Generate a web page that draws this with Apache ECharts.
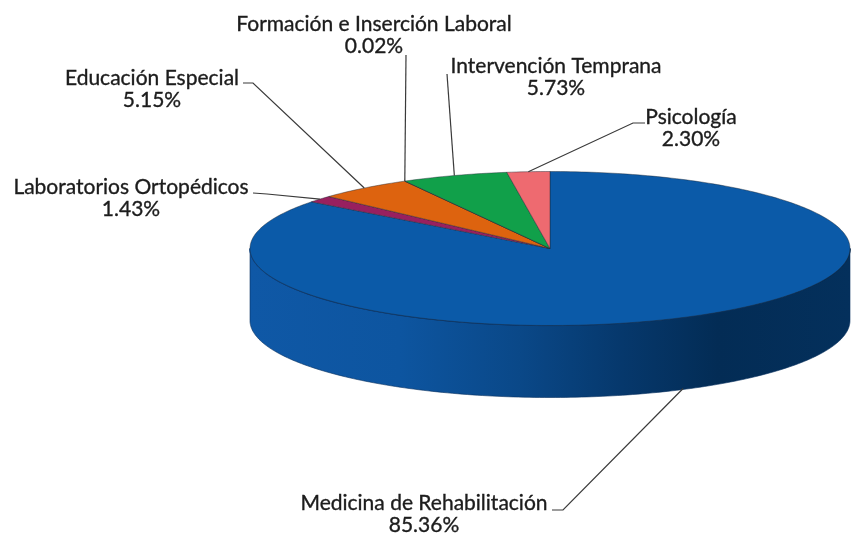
<!DOCTYPE html>
<html>
<head>
<meta charset="utf-8">
<style>html,body{margin:0;padding:0;background:#fff}#chart{width:866px;height:534px}</style>
<script src="https://cdn.jsdelivr.net/npm/echarts@6/dist/echarts.min.js"></script>
</head>
<body>
<div id="chart"></div>
<script>
// Data, clockwise from 12 o'clock
const categories = ['Medicina de Rehabilitación','Laboratorios Ortopédicos','Educación Especial','Formación e Inserción Laboral','Intervención Temprana','Psicología'];
const shares = [85.36, 1.43, 5.15, 0.02, 5.73, 2.30];

// Styles and layout
const sliceColors = ['#0b5aa8','#98205f','#dd630f','#7a5a20','#11a04a','#ee6a70'];
const cx = 550, cy = 248.5, rx = 300, ry = 77, depth = 72;
const labelCenters = [[424,514],[131,198],[152,89],[374,35],[556,77],[691,128]];
const leaderStarts = [[552,510],[253,193],[243,83],[406,55],[447,74],[645,123]];
const leaderKnees  = [[563,510],[267,194],[253,83],null,null,[633,123]];
const fontFamily = 'Lato, "Open Sans", sans-serif';

const total = shares.reduce((a, b) => a + b, 0);
const toAngle = s => s / total * 360;
function pt(deg, dy) {
  const r = deg * Math.PI / 180;
  return [cx + rx * Math.sin(r), cy - ry * Math.cos(r) + (dy || 0)];
}
function arc(a0, a1, dy) {
  const pts = [], n = Math.max(1, Math.ceil((a1 - a0) / 1));
  for (let i = 0; i <= n; i++) pts.push(pt(a0 + (a1 - a0) * i / n, dy));
  return pts;
}
function sliceRange(i) {
  let s = 0;
  for (let k = 0; k < i; k++) s += shares[k];
  return [toAngle(s), toAngle(s + shares[i])];
}
const wallFill = new echarts.graphic.LinearGradient(0, 0, 1, 0, [
  {offset: 0, color: '#0f58a6'},
  {offset: 0.25, color: '#0d55a0'},
  {offset: 0.45, color: '#0a4888'},
  {offset: 0.62, color: '#06386c'},
  {offset: 0.78, color: '#032c55'},
  {offset: 1, color: '#04305c'}
]);
const edgeStroke = new echarts.graphic.LinearGradient(0, 0, 1, 0, [
  {offset: 0, color: '#0b4c96'},
  {offset: 0.1, color: '#0a3f80'},
  {offset: 0.5, color: '#083a74'},
  {offset: 1, color: '#032a52'}
]);

function renderWall(params, api) {
  const i = params.dataIndex;
  const [a0, a1] = sliceRange(i);
  const lo = Math.max(a0, 90), hi = Math.min(a1, 270);
  if (hi <= lo) return {type: 'group', children: []};
  const top = arc(lo, hi, 0), bottom = arc(lo, hi, depth).reverse();
  return {type: 'group', children: [
    {type: 'polygon', shape: {points: top.concat(bottom)},
     style: {fill: wallFill, stroke: '#062f5e', lineWidth: 0.6}},
    {type: 'polyline', shape: {points: top},
     style: {fill: 'none', stroke: edgeStroke, lineWidth: 1.4}}
  ]};
}
function renderTop(params, api) {
  const i = params.dataIndex;
  const [a0, a1] = sliceRange(i);
  const poly = [[cx, cy]].concat(arc(a0, a1, 0));
  const mid = (a0 + a1) / 2;
  const onWall = mid > 90 && mid < 270;
  const anchor = pt(mid, onWall ? depth - 1 : 0);
  const leader = [leaderStarts[i]];
  if (leaderKnees[i]) leader.push(leaderKnees[i]);
  leader.push(anchor);
  return {type: 'group', children: [
    {type: 'polygon', shape: {points: poly},
     style: {fill: sliceColors[i], stroke: 'rgba(30,40,50,0.55)', lineWidth: 0.8}, z2: 1},
    {type: 'polyline', shape: {points: leader},
     style: {fill: 'none', stroke: '#3a3a3a', lineWidth: 1.2}, z2: 2},
    {type: 'text', x: labelCenters[i][0], y: labelCenters[i][1], z2: 3,
     style: {text: categories[i] + '\n' + api.value(0).toFixed(2) + '%',
             textAlign: 'center', textVerticalAlign: 'middle',
             fontFamily: fontFamily, fontSize: 21, lineHeight: 22, fill: '#1c1c1c',
             stroke: '#1c1c1c', lineWidth: 0.35}}
  ]};
}
const seriesData = shares.map((v, i) => ({name: categories[i], value: [v]}));
const chart = echarts.init(document.getElementById('chart'), null, {renderer: 'canvas'});
chart.setOption({
  animation: false,
  backgroundColor: '#ffffff',
  series: [
    {type: 'custom', coordinateSystem: 'none', renderItem: renderWall, data: seriesData, z: 1, silent: true},
    {type: 'custom', coordinateSystem: 'none', renderItem: renderTop, data: seriesData, z: 2, silent: true}
  ]
});
</script>
</body>
</html>
